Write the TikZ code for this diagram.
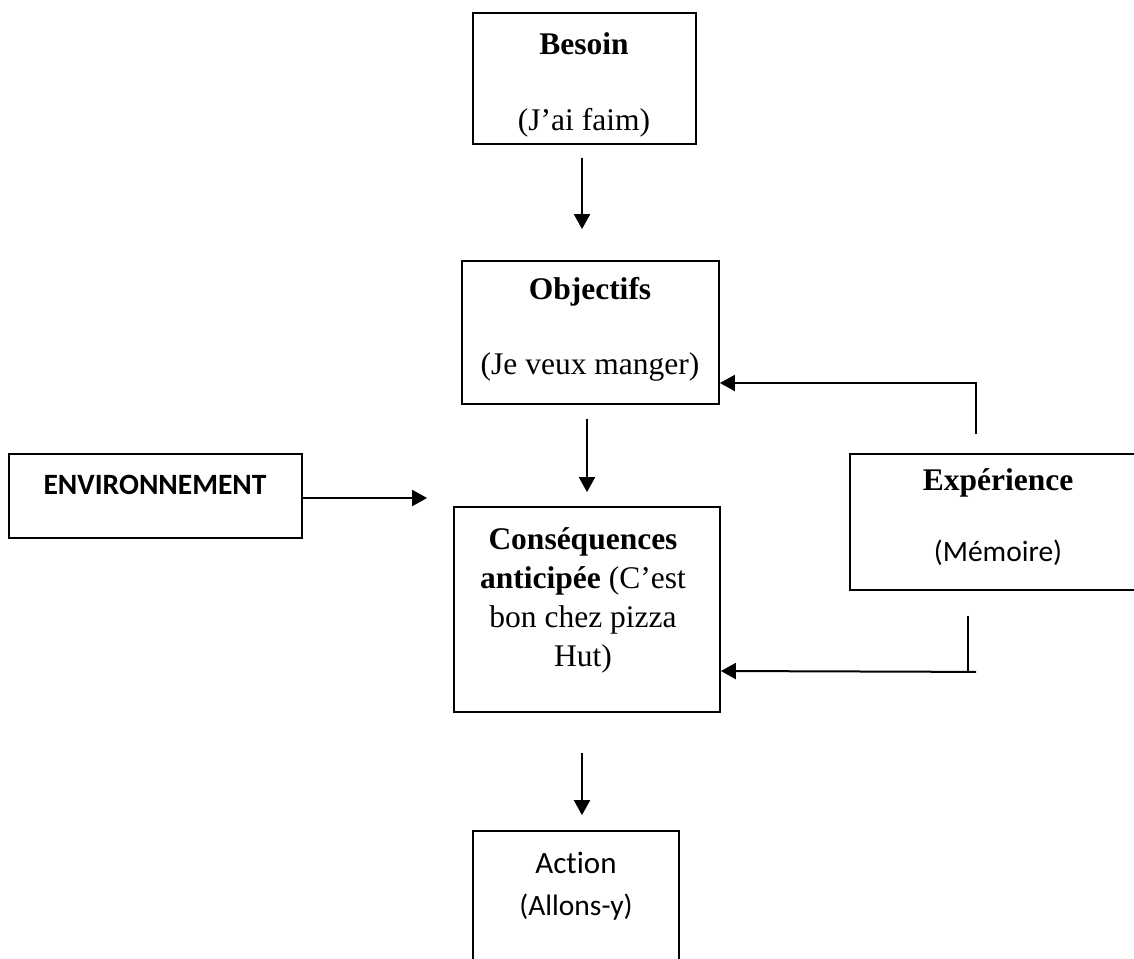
\documentclass[tikz,border=0pt]{standalone}
\usepackage{fontspec}
\setmainfont{Liberation Serif}
\newfontfamily\calfont[Ligatures=NoCommon]{Carlito}
\usetikzlibrary{arrows.meta,calc}
\begin{document}
\begin{tikzpicture}[x=1pt,y=-1pt,
  box/.style={draw, line width=1.8pt, rectangle, inner sep=0pt},
  arr/.style={line width=2pt, -{Triangle[length=15pt,width=16pt]}},
  conn/.style={line width=2pt},
  serif/.style={font=\fontsize{31.5}{39}\selectfont, inner sep=0pt},
  sans/.style={font=\calfont\fontsize{29.5}{36}\selectfont, inner sep=0pt},
]
\clip (0,0) rectangle (1134,958);
% boxes
\node[box, minimum width=223pt, minimum height=131pt] (besoin) at (584.5,78.5) {};
\node[box, minimum width=257pt, minimum height=143pt] (objectifs) at (590.5,332.5) {};
\node[box, minimum width=293pt, minimum height=84pt] (env) at (155.5,496) {};
\node[box, minimum width=266pt, minimum height=205pt] (cons) at (587,609.5) {};
\node[box, minimum width=300pt, minimum height=136pt] (exp) at (1000,522) {};
\node[box, minimum width=206pt, minimum height=159pt] (action) at (576,910.5) {};
% texts
\node[serif] (besoinT) at (584,44) {\textbf{Besoin}};
\node[serif] (besoinS) at (584,123) {(J’ai faim)};
\node[serif] (objT) at (590,292) {\textbf{Objectifs}};
\node[serif] (objS) at (590,367) {(Je veux manger)};
\node[sans] (envT) at (155,485) {\bfseries ENVIRONNEMENT};
\node[serif, align=center] (consT) at (583,600) {\textbf{Conséquences}\\\textbf{anticipée} (C’est\\bon chez pizza\\Hut)};
\node[serif] (expT) at (998,483) {\textbf{Expérience}};
\node[sans] (expS) at (998,553) {(Mémoire)};
\node[sans, font=\calfont\fontsize{31}{36}\selectfont] (actT) at (576,863) {Action};
\node[sans] (actS) at (576,907) {(Allons-y)};
% connectors
\draw[arr] ($(besoin.south)+(-2.5,13)$) -- ($(objectifs.north)+(-8.5,-31)$);
\draw[arr] ($(objectifs.south)+(-3.5,14)$) -- ($(cons.north)+(0,-14)$);
\draw[arr] ($(cons.south)+(-5,40)$) -- ($(action.north)+(6,-15)$);
\draw[arr] ($(env.east)+(0,2)$) -- ($(cons.west)+(-26,-111.5)$);
\draw[arr] ($(exp.north)+(-24,-19)$) |- ($(objectifs.east)+(0,50.5)$);
\draw[conn] ($(exp.south)+(-32,25)$) -- ++(0,56);
\draw[arr] ($(exp.south)+(-24,81)$) -- ($(cons.east)+(0,61.5)$);
\end{tikzpicture}
\end{document}
